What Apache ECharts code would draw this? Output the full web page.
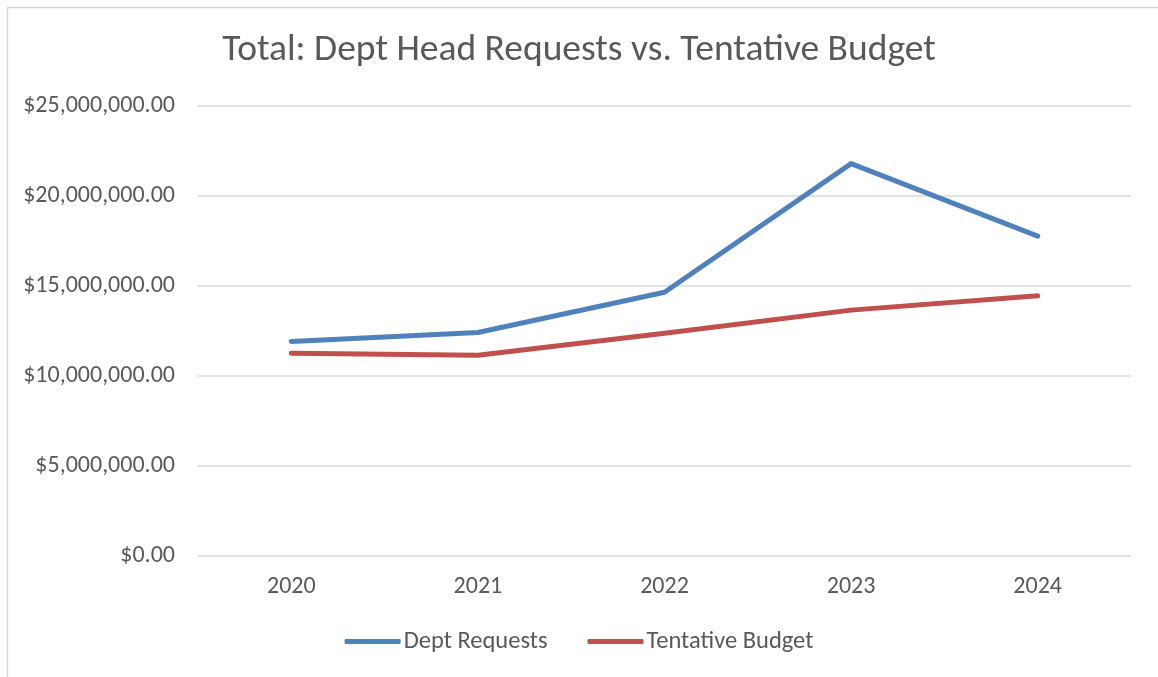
<!DOCTYPE html>
<html>
<head>
<meta charset="utf-8">
<script src="https://cdn.jsdelivr.net/npm/echarts@6/dist/echarts.min.js"></script>
<style>
  html, body { margin: 0; padding: 0; background: #fff; }
  #chart { width: 1158px; height: 677px; }
</style>
</head>
<body>
<div id="chart"></div>
<script>
// Fiscal years shown on the category axis
const years = ['2020', '2021', '2022', '2023', '2024'];

// Totals in dollars
const deptRequests = [11920000, 12420000, 14650000, 21800000, 17770000];
const tentativeBudget = [11270000, 11150000, 12380000, 13660000, 14460000];

// Value axis ticks
const yMin = 0;
const yMax = 25000000;
const yStep = 5000000;

const FONT = 'Carlito, Lato, "Liberation Sans", sans-serif';
const TEXT = '#595959';

const money = v => '$' + v.toLocaleString('en-US', { minimumFractionDigits: 2, maximumFractionDigits: 2 });

const chart = echarts.init(document.getElementById('chart'), null, { renderer: 'canvas' });

chart.setOption({
  backgroundColor: '#ffffff',
  animation: false,
  textStyle: { fontFamily: FONT },
  graphic: [{
    type: 'rect',
    shape: { x: 7.5, y: 7.5, width: 1300, height: 1000 },
    style: { fill: 'none', stroke: '#D9D9D9', lineWidth: 1.5 },
    silent: true
  }],
  title: {
    text: 'Total: Dept Head Requests vs. Tentative Budget',
    left: 'center',
    top: 27,
    textStyle: { fontFamily: FONT, fontSize: 37.5, fontWeight: 'normal', color: TEXT }
  },
  legend: {
    bottom: 18,
    left: 'center',
    icon: 'roundRect',
    itemWidth: 56,
    itemHeight: 5,
    itemGap: 40,
    textStyle: { fontFamily: FONT, fontSize: 24.5, color: TEXT, padding: [0, 0, 0, -2] },
    data: ['Dept Requests', 'Tentative Budget']
  },
  grid: { left: 198, right: 27, top: 106, bottom: 121, containLabel: false },
  xAxis: {
    type: 'category',
    data: years,
    boundaryGap: true,
    axisLine: { show: false },
    axisTick: { show: false },
    axisLabel: { color: TEXT, fontFamily: FONT, fontSize: 24, margin: 19 }
  },
  yAxis: {
    type: 'value',
    min: yMin,
    max: yMax,
    interval: yStep,
    axisLine: { show: false },
    axisTick: { show: false },
    splitLine: { lineStyle: { color: '#D9D9D9', width: 1.5 } },
    axisLabel: { color: TEXT, fontFamily: FONT, fontSize: 24, margin: 23, formatter: money }
  },
  series: [
    {
      name: 'Dept Requests',
      type: 'line',
      data: deptRequests,
      symbol: 'none',
      color: '#4F81BD',
      lineStyle: { width: 5, color: '#4F81BD', cap: 'round', join: 'round' }
    },
    {
      name: 'Tentative Budget',
      type: 'line',
      data: tentativeBudget,
      symbol: 'none',
      color: '#C0504D',
      lineStyle: { width: 5, color: '#C0504D', cap: 'round', join: 'round' }
    }
  ]
});
</script>
</body>
</html>
